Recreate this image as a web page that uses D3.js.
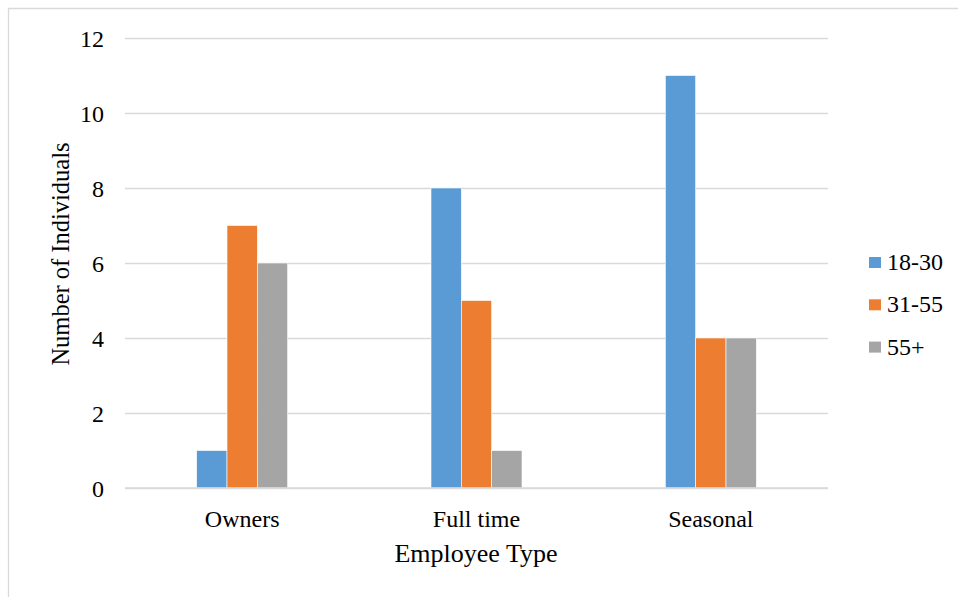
<!DOCTYPE html>
<html><head><meta charset="utf-8">
<script src="https://cdn.jsdelivr.net/npm/d3@7"></script>
<style>html,body{margin:0;padding:0;background:#fff;}svg{display:block;}</style>
</head><body>
<svg id="c" width="958" height="597"></svg>
<script>
const categories = ["Owners", "Full time", "Seasonal"];
const seriesNames = ["18-30", "31-55", "55+"];
const values18_30 = [1, 8, 11];
const values31_55 = [7, 5, 4];
const values55p = [6, 1, 4];
const yTicks = [0, 2, 4, 6, 8, 10, 12];
const colors = ["#5B9BD5", "#ED7D31", "#A5A5A5"];

(function () {
const seriesValues = [values18_30, values31_55, values55p];
const svg = d3.select("#c");
const font = "'Liberation Serif','Times New Roman',serif";
const pLeft = 125, pRight = 828, pTop = 38, pBottom = 488;

// chart border (left & top visible)
svg.append("path").attr("d", "M8.5,597V8.5H958").attr("fill", "none").attr("stroke", "#d9d9d9").attr("stroke-width", 1.3);

const y = d3.scaleLinear().domain([0, 12]).range([pBottom, pTop]);
const x0 = d3.scaleBand().domain(categories).range([pLeft, pRight]).padding(0);
const x1 = d3.scaleBand().domain(seriesNames).range([0, 91]).padding(0);

// gridlines
const yAxis = d3.axisLeft(y).tickValues(yTicks).tickSize(-(pRight - pLeft)).tickPadding(21);
const gy = svg.append("g").attr("transform", `translate(${pLeft},0)`).call(yAxis);
gy.select(".domain").remove();
gy.selectAll(".tick line").attr("stroke", "#d9d9d9").attr("stroke-width", 1.3);
gy.selectAll(".tick text").attr("font-family", font).attr("font-size", 24).attr("fill", "#000").attr("dy", "0.34em");

// bars
const groups = svg.append("g").selectAll("g").data(categories).join("g")
  .attr("transform", d => `translate(${x0(d) + x0.bandwidth() / 2 - 45.5},0)`);
groups.selectAll("rect").data((d, i) => seriesNames.map((s, j) => ({ s, v: seriesValues[j][i], j })))
  .join("rect")
  .attr("x", d => x1(d.s))
  .attr("width", x1.bandwidth())
  .attr("y", d => y(d.v))
  .attr("height", d => y(0) - y(d.v))
  .attr("fill", d => colors[d.j])
  .attr("stroke", "#fff").attr("stroke-width", 0.6);

// x axis
const xAxis = d3.axisBottom(x0).tickSize(0).tickPadding(22);
const gx = svg.append("g").attr("transform", `translate(0,${pBottom})`).call(xAxis);
gx.select(".domain").remove();
gx.selectAll(".tick text").attr("font-family", font).attr("font-size", 24).attr("fill", "#000");
svg.append("line").attr("x1", pLeft).attr("x2", pRight).attr("y1", y(0)).attr("y2", y(0)).attr("stroke", "#d9d9d9").attr("stroke-width", 1.3);

// axis titles
svg.append("text").attr("x", 476).attr("y", 562).attr("text-anchor", "middle")
  .attr("font-family", font).attr("font-size", 26).text("Employee Type");
svg.append("text").attr("transform", "translate(69,254) rotate(-90)").attr("text-anchor", "middle")
  .attr("font-family", font).attr("font-size", 24.5).text("Number of Individuals");

// legend
const lg = svg.append("g").selectAll("g").data(seriesNames).join("g")
  .attr("transform", (d, i) => `translate(869,${262.5 + i * 42.3})`);
lg.append("rect").attr("x", 0).attr("y", -5.5).attr("width", 12).attr("height", 11).attr("fill", (d, i) => colors[i]);
lg.append("text").attr("x", 18).attr("y", 7.5).attr("font-family", font).attr("font-size", 24).text(d => d);
})();
</script>
</body></html>
